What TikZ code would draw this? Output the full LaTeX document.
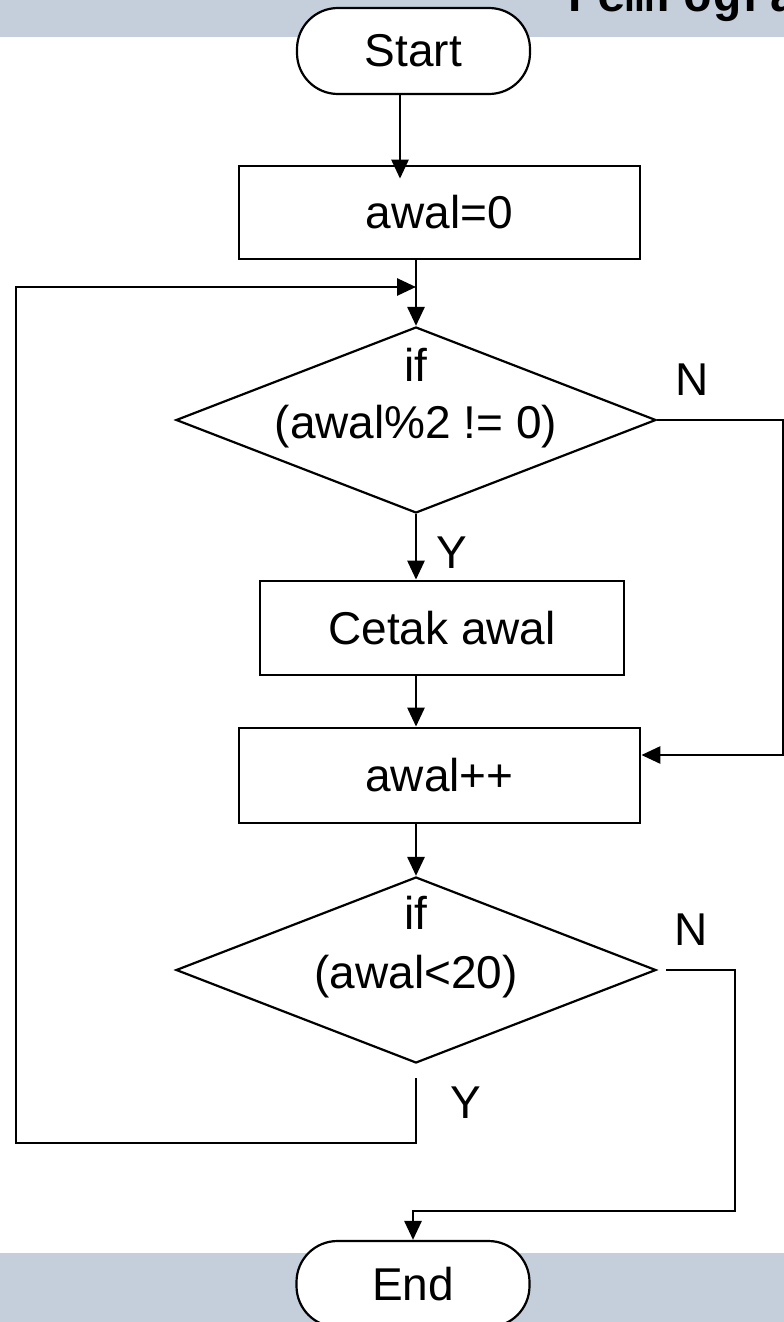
\documentclass[tikz,border=0pt]{standalone}
\usepackage{fontspec}
\setmainfont{Liberation Sans}
\newfontfamily\titlefont{Liberation Mono}[BoldFont={Liberation Mono Bold}]
\usetikzlibrary{shapes.geometric,arrows.meta,calc}
\definecolor{band}{RGB}{196,207,219}
\begin{document}
\begin{tikzpicture}[x=1pt,y=-1pt,
  font=\fontsize{46}{55}\selectfont,
  proc/.style={draw, line width=2.8pt, fill=white, minimum width=#1, minimum height=94pt, inner sep=0pt},
  term/.style={draw, line width=2.2pt, fill=white, rounded corners=41pt, minimum width=233pt, minimum height=86pt, inner sep=0pt},
  dia/.style={draw, diamond, line width=2.2pt, minimum width=480pt, minimum height=186pt, inner sep=0pt},
  lbl/.style={inner sep=0pt},
  arr/.style={line width=2.8pt, -{Triangle[length=19pt,width=17pt]}},
  ln/.style={line width=2.8pt},
]
\useasboundingbox (0,0) rectangle (784,1322);
\clip (0,0) rectangle (784,1322);
\fill[band] (0,0) rectangle (784,37);
\fill[band] (0,1253) rectangle (784,1322);
\node[anchor=base west, inner sep=0pt, font=\titlefont\bfseries\fontsize{48}{50}\selectfont] (title) at (568,12) {Pemrogra};

\node[term] (start) at (413.5,51) {\raisebox{-5pt}{Start}};
\node[proc=401pt, minimum height=93pt] (a0) at (439.5,212.5) {awal=0};
\coordinate (j) at (416,287);
\node[dia] (d1) at (416,420) {};
\node[lbl] (d1a) at (416,365) {if};
\node[lbl] (d1b) at (416,427) {(awal\%2 != 0)};
\node[proc=364pt] (ck) at (442,628) {Cetak awal};
\node[proc=401pt, minimum height=95pt] (inc) at (439.5,775.5) {awal++};
\node[dia] (d2) at (416,970) {};
\node[lbl] (d2a) at (416,913) {if};
\node[lbl] (d2b) at (416,977) {(awal<20)};
\node[term] (end) at (413,1284) {\raisebox{-6pt}{End}};

\node[lbl] (y1) at (452,553) {Y};
\node[lbl] (n1) at (692,380) {N};
\node[lbl] (n2) at (691,930) {N};
\node[lbl] (y2) at (466,1103) {Y};

\draw[arr, shorten >=-14pt] ([xshift=-13.5pt]start.south) -- ([xshift=-13.5pt]start.south |- a0.north);
\draw[ln] (a0.south -| j) -- (j);
\draw[arr] (j) -- (d1.north);
\draw[arr] (d1.south) -- (d1.south |- ck.north);
\draw[arr] (ck.south -| d1.south) -- (inc.north -| d1.south);
\coordinate (r1) at (783,755);
\draw[arr] (d1.east) -| (r1) -- (r1 -| inc.east);
\draw[arr] (inc.south -| d2.north) -- (d2.north);
\coordinate (r2) at (735,1211);
\draw[arr] ([xshift=9pt]d2.east) -| (r2) -| (end.north);
\coordinate (l1) at (16,1143);
\draw[arr] ([yshift=-14pt]d2.south) |- (l1) -- (l1 |- j) -- (j);
\end{tikzpicture}
\end{document}
